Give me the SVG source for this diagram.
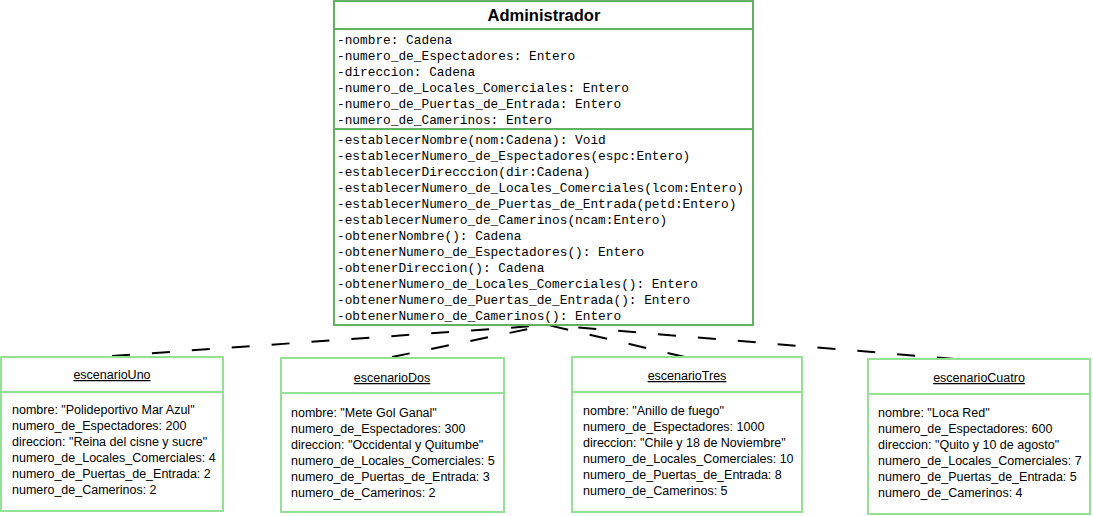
<svg xmlns="http://www.w3.org/2000/svg" width="1093" height="516" viewBox="0 0 1093 516">
<style>
.bg{fill:#ffffff}
.cls{fill:#ffffff;stroke:#62b062;stroke-width:2}
.clsl{stroke:#62b062;stroke-width:2}
.obj{fill:#ffffff;stroke:#94e094;stroke-width:2}
.objl{stroke:#94e094;stroke-width:2}
.title{font-family:"Liberation Sans",Arial,sans-serif;font-weight:bold;font-size:16.5px;fill:#000}
.mono{font-family:"Liberation Mono","Courier New",monospace;font-size:12.8px;fill:#000}
.otitle{font-family:"Liberation Sans",Arial,sans-serif;font-size:12.5px;fill:#000;text-decoration:underline}
.otxt{font-family:"Liberation Sans",Arial,sans-serif;font-size:12.5px;fill:#000}
.dep{fill:none;stroke:#000;stroke-width:2;stroke-dasharray:18 22}
</style>
<rect class="bg" x="0" y="0" width="1093" height="516"/>
<g id="connectors">
<line class="dep" x1="112" y1="356" x2="548" y2="325"/>
<line class="dep" x1="392" y1="357" x2="548" y2="325"/>
<line class="dep" x1="685" y1="357" x2="548" y2="325"/>
<line class="dep" x1="955" y1="359" x2="548" y2="325"/>
</g>
<g id="Administrador">
<rect class="cls" x="334" y="1" width="419" height="324"/>
<line class="clsl" x1="334" y1="29" x2="753" y2="29"/>
<line class="clsl" x1="334" y1="129" x2="753" y2="129"/>
<text class="title" x="544" y="21" text-anchor="middle">Administrador</text>
<g class="mono">
<text x="337" y="44">-nombre: Cadena</text>
<text x="337" y="60">-numero_de_Espectadores: Entero</text>
<text x="337" y="76">-direccion: Cadena</text>
<text x="337" y="92">-numero_de_Locales_Comerciales: Entero</text>
<text x="337" y="108">-numero_de_Puertas_de_Entrada: Entero</text>
<text x="337" y="124">-numero_de_Camerinos: Entero</text>
<text x="337" y="144">-establecerNombre(nom:Cadena): Void</text>
<text x="337" y="160">-establecerNumero_de_Espectadores(espc:Entero)</text>
<text x="337" y="176">-establecerDirecccion(dir:Cadena)</text>
<text x="337" y="192">-establecerNumero_de_Locales_Comerciales(lcom:Entero)</text>
<text x="337" y="208">-establecerNumero_de_Puertas_de_Entrada(petd:Entero)</text>
<text x="337" y="224">-establecerNumero_de_Camerinos(ncam:Entero)</text>
<text x="337" y="240">-obtenerNombre(): Cadena</text>
<text x="337" y="256">-obtenerNumero_de_Espectadores(): Entero</text>
<text x="337" y="272">-obtenerDireccion(): Cadena</text>
<text x="337" y="288">-obtenerNumero_de_Locales_Comerciales(): Entero</text>
<text x="337" y="304">-obtenerNumero_de_Puertas_de_Entrada(): Entero</text>
<text x="337" y="320">-obtenerNumero_de_Camerinos(): Entero</text>
</g>
</g>
<g id="escenarioUno">
<rect class="obj" x="1" y="357" width="222" height="154"/>
<line class="objl" x1="1" y1="392" x2="223" y2="392"/>
<text class="otitle" x="112" y="379" text-anchor="middle">escenarioUno</text>
<g class="otxt">
<text x="12" y="414">nombre: "Polideportivo Mar Azul"</text>
<text x="12" y="430">numero_de_Espectadores: 200</text>
<text x="12" y="446">direccion: "Reina del cisne y sucre"</text>
<text x="12" y="462">numero_de_Locales_Comerciales: 4</text>
<text x="12" y="478">numero_de_Puertas_de_Entrada: 2</text>
<text x="12" y="494">numero_de_Camerinos: 2</text>
</g>
</g>
<g id="escenarioDos">
<rect class="obj" x="281" y="358" width="223" height="154"/>
<line class="objl" x1="281" y1="393" x2="504" y2="393"/>
<text class="otitle" x="392" y="382" text-anchor="middle">escenarioDos</text>
<g class="otxt">
<text x="291" y="417">nombre: "Mete Gol Ganal"</text>
<text x="291" y="433">numero_de_Espectadores: 300</text>
<text x="291" y="449">direccion: "Occidental y Quitumbe"</text>
<text x="291" y="465">numero_de_Locales_Comerciales: 5</text>
<text x="291" y="481">numero_de_Puertas_de_Entrada: 3</text>
<text x="291" y="497">numero_de_Camerinos: 2</text>
</g>
</g>
<g id="escenarioTres">
<rect class="obj" x="572" y="357" width="230" height="155"/>
<line class="objl" x1="572" y1="392" x2="802" y2="392"/>
<text class="otitle" x="687" y="380" text-anchor="middle">escenarioTres</text>
<g class="otxt">
<text x="583" y="415">nombre: "Anillo de fuego"</text>
<text x="583" y="431">numero_de_Espectadores: 1000</text>
<text x="583" y="447">direccion: "Chile y 18 de Noviembre"</text>
<text x="583" y="463">numero_de_Locales_Comerciales: 10</text>
<text x="583" y="479">numero_de_Puertas_de_Entrada: 8</text>
<text x="583" y="495">numero_de_Camerinos: 5</text>
</g>
</g>
<g id="escenarioCuatro">
<rect class="obj" x="868" y="359" width="222" height="155"/>
<line class="objl" x1="868" y1="394" x2="1090" y2="394"/>
<text class="otitle" x="979" y="382" text-anchor="middle">escenarioCuatro</text>
<g class="otxt">
<text x="878" y="417">nombre: "Loca Red"</text>
<text x="878" y="433">numero_de_Espectadores: 600</text>
<text x="878" y="449">direccion: "Quito y 10 de agosto"</text>
<text x="878" y="465">numero_de_Locales_Comerciales: 7</text>
<text x="878" y="481">numero_de_Puertas_de_Entrada: 5</text>
<text x="878" y="497">numero_de_Camerinos: 4</text>
</g>
</g>
</svg>
